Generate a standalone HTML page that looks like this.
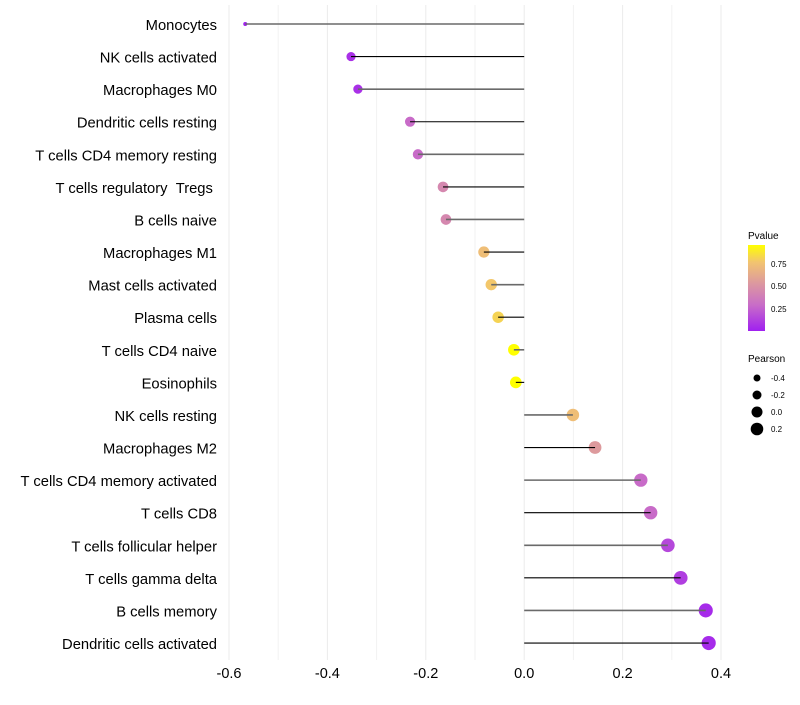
<!DOCTYPE html>
<html><head><meta charset="utf-8"><style>
body{margin:0;background:#fff;font-family:"Liberation Sans",sans-serif}
svg text{font-family:"Liberation Sans",sans-serif}
</style></head><body>
<svg id="chart" width="800" height="700" xmlns="http://www.w3.org/2000/svg">
<defs><linearGradient id="pg" x1="0" y1="1" x2="0" y2="0">
<stop offset="0" stop-color="#A020F0"/><stop offset="0.3" stop-color="#C86CC8"/><stop offset="0.55" stop-color="#DC98A0"/><stop offset="0.8" stop-color="#F2C470"/><stop offset="1" stop-color="#FFFF00"/></linearGradient></defs>
<g id="grid"></g><g id="marks"></g><g id="ylabels"></g><g id="xlabels"></g>
<g>
<text x="748" y="239" font-size="10">Pvalue</text>
<rect x="748" y="245" width="17" height="86" fill="url(#pg)"/>
<text x="771" y="267" font-size="8">0.75</text>
<text x="771" y="289" font-size="8">0.50</text>
<text x="771" y="312" font-size="8">0.25</text>
</g>
<g id="sizeleg">
<text x="748" y="362" font-size="10">Pearson</text>
</g>
</svg>
<script>
const categories=["Monocytes","NK cells activated","Macrophages M0","Dendritic cells resting","T cells CD4 memory resting","T cells regulatory\u00a0\u00a0Tregs\u00a0","B cells naive","Macrophages M1","Mast cells activated","Plasma cells","T cells CD4 naive","Eosinophils","NK cells resting","Macrophages M2","T cells CD4 memory activated","T cells CD8","T cells follicular helper","T cells gamma delta","B cells memory","Dendritic cells activated"];
const pearson=[-0.567,-0.352,-0.338,-0.232,-0.216,-0.165,-0.159,-0.082,-0.067,-0.053,-0.021,-0.017,0.099,0.144,0.237,0.257,0.292,0.318,0.369,0.375];
const pvalues=[0.02,0.08,0.08,0.3,0.3,0.45,0.45,0.74,0.78,0.82,0.96,0.96,0.74,0.55,0.3,0.3,0.17,0.13,0.06,0.06];
const xticks=[-0.6,-0.4,-0.2,0.0,0.2,0.4];
const xminor=[-0.5,-0.3,-0.1,0.1,0.3];
const sizeLegend=[-0.4,-0.2,0.0,0.2];
const NS="http://www.w3.org/2000/svg";
const xs=v=>524.2+v*492;
const ys=i=>24+i*32.58;
const rs=v=>{const r2=21+40*(v+0.35);return r2<14?2:Math.sqrt(r2);};
const stops=[[0,[160,32,240]],[0.3,[200,108,200]],[0.55,[220,152,160]],[0.8,[242,196,112]],[1,[255,255,0]]];
function col(p){p=Math.max(0,Math.min(1,(p-0.02)/0.94));for(let k=1;k<stops.length;k++){if(p<=stops[k][0]){const a=stops[k-1],b=stops[k],t=(p-a[0])/(b[0]-a[0]);return "rgb("+a[1].map((c,j)=>Math.round(c+(b[1][j]-c)*t)).join(",")+")";}}return "rgb(255,255,0)";}
function mk(tag,attrs,parent){const e=document.createElementNS(NS,tag);for(const k in attrs)e.setAttribute(k,attrs[k]);parent.appendChild(e);return e;}
const grid=document.getElementById('grid'),marks=document.getElementById('marks'),yl=document.getElementById('ylabels'),xl=document.getElementById('xlabels');
xminor.forEach(v=>{const l=mk('line',{x1:xs(v),x2:xs(v),y1:5,y2:660,stroke:'#f2f2f2','stroke-width':1},grid);

});
xticks.forEach(v=>{const l=mk('line',{x1:xs(v),x2:xs(v),y1:5,y2:660,stroke:'#ebebeb','stroke-width':1},grid);


const t=mk('text',{x:xs(v),y:678,'font-size':14.5,'text-anchor':'middle',fill:'#000'},xl);t.textContent=v.toFixed(1);

});
categories.forEach((c,i)=>{const y=ys(i);
const t=mk('text',{x:217,y:y+6,'font-size':14.75,'text-anchor':'end',fill:'#000'},yl);t.textContent=c;


const d=mk('circle',{cx:xs(pearson[i]),cy:y,r:rs(pearson[i]),fill:col(pvalues[i])},marks);


const even=i%2===0;
const l=mk('line',{x1:xs(0),x2:xs(pearson[i]),y1:y,y2:y,stroke:even?'#6a6a6a':'#000','stroke-width':even?1.6:1.1},marks);

});
const sl=document.getElementById('sizeleg');
const lr=[3.5,4.5,5.5,6.3];
sizeLegend.forEach((v,i)=>{const y=378+i*17;
const c=mk('circle',{cx:757,cy:y,r:lr[i],fill:'#000'},sl);


const t=mk('text',{x:771,y:y+3,'font-size':8},sl);t.textContent=v.toFixed(1);

});
</script>
</body></html>
